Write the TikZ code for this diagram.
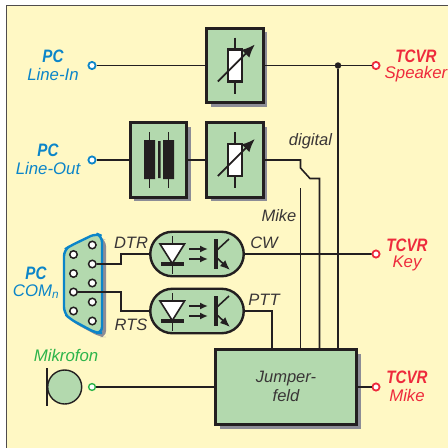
\documentclass[tikz,border=0pt]{standalone}
\usepackage{fontspec}
\setmainfont{Liberation Sans}
\newfontfamily\headfont[FakeStretch=0.84]{Liberation Sans}
\usetikzlibrary{positioning,arrows.meta,shadows,shapes.misc}

\definecolor{bgyellow}{HTML}{FFF8C4}
\definecolor{boxgreen}{HTML}{B3D9AE}
\definecolor{shadowgray}{HTML}{8C8C96}
\definecolor{pcblue}{HTML}{0B85C9}
\definecolor{tcvrred}{HTML}{EE2A3C}
\definecolor{micgreen}{HTML}{2DB44A}
\definecolor{inkdark}{HTML}{231F20}

\tikzset{
  boxshadow/.style={drop shadow={shadow xshift=4pt,shadow yshift=-4pt,fill=shadowgray,opacity=1}},
  blockbox/.style={draw=inkdark, line width=3pt, fill=boxgreen, boxshadow, inner sep=0pt,
    minimum width=56.5pt, minimum height=74.5pt, align=center},
  optobox/.style={rounded rectangle, draw=inkdark, line width=2.4pt, fill=boxgreen,
    minimum width=93.5pt, minimum height=44.5pt, inner sep=0pt},
  wire/.style={draw=inkdark, line width=1.6pt},
  termin/.style={circle, draw=#1, line width=1.8pt, fill=white, inner sep=0pt, minimum size=7.2pt},
  pinhole/.style={circle, draw=inkdark, line width=1.5pt, fill=white, inner sep=0pt, minimum size=7.5pt},
  dotbig/.style={circle, fill=inkdark, inner sep=0pt, minimum size=6.5pt},
  dotsmall/.style={circle, fill=inkdark, inner sep=0pt, minimum size=3.4pt},
  headlbl/.style={text=#1, font=\fontsize{18}{18}\headfont\bfseries\itshape, inner sep=0pt},
  sublbl/.style={text=#1, font=\fontsize{16.8}{17}\selectfont\itshape, inner sep=0pt},
  notelbl/.style={text=inkdark!90, font=\fontsize{16.5}{18.5}\selectfont\itshape, inner sep=0pt, align=center},
  potsym/.pic={
    \draw[inkdark, line width=1.6pt] (0,-28) -- (0,28);
    \draw[inkdark, line width=2.2pt, fill=white] (-7,-16) rectangle (7,16);
    \draw[inkdark, line width=1.8pt, -{Latex[length=13pt,width=11pt]}] (-17,16) -- (20,-21);
  },
  transfsym/.pic={
    \draw[inkdark, line width=1.6pt] (-9,-28) -- (-9,28) (10,-28) -- (10,28);
    \fill[inkdark] (-14.5,-20) rectangle (-3.5,19) (-0.5,-19) rectangle (2.2,18) (4.5,-20) rectangle (15.5,19);
  },
  optosym/.pic={
    \draw[inkdark, line width=1.6pt] (-24.7,-18) -- (-24.7,20);
    \draw[inkdark, line width=1.6pt, fill=white] (-37,-10) -- (-12.5,-10) -- (-24.7,9.5) -- cycle;
    \draw[inkdark, line width=3.2pt] (-36,10) -- (-13.5,10);
    \draw[inkdark, line width=1.6pt, -{Latex[length=8pt,width=7pt]}] (-8,-5) -- (11,-5);
    \draw[inkdark, line width=1.6pt, -{Latex[length=8pt,width=7pt]}] (-8,5) -- (11,5);
    \draw[inkdark, line width=3.2pt] (19,-15) -- (19,15);
    \draw[inkdark, line width=1.6pt] (19,-3) -- (32,-15);
    \draw[inkdark, line width=1.6pt, -{Latex[length=10pt,width=8pt]}] (19,3) -- (33,16);
  },
}

\begin{document}
\begin{tikzpicture}[x=1pt, y=-1pt, node distance=18.5pt]
  \useasboundingbox (0,0) rectangle (448,448);
  \fill[bgyellow] (6,5) rectangle (449,449);
  \draw[inkdark!80, line width=1pt] (6,449) -- (6,5) -- (449,5);

  % blocks
  \node[blockbox] (pottop) at (234.8,65.5) {};
  \node[blockbox] (potlow) at (234.8,160) {};
  \node[blockbox] (transf) at (158.5,160) {};
  \node[blockbox, minimum width=141pt, minimum height=75pt] (jumper) at (286.3,387) {};
  \node[notelbl] (jumpertxt) at (286,386.5) {Jumper-\\feld};
  \pic at (pottop) {potsym};
  \pic at (potlow) {potsym};
  \pic at (transf) {transfsym};

  % optocouplers
  \node[optobox] (optocw) at (197,254) {};
  \node[optobox] (optoptt) at (197,311) {};
  \pic at (optocw) {optosym};
  \pic at (optoptt) {optosym};

  % terminals
  \node[termin=pcblue] (linein) at (92,65.5) {};
  \node[termin=pcblue] (lineout) at (92,160) {};
  \node[termin=tcvrred] (speaker) at (376,65.5) {};
  \node[termin=tcvrred] (key) at (376,254) {};
  \node[termin=tcvrred] (mikeout) at (376,387) {};
  \node[termin=micgreen, line width=1.4pt, minimum size=6.8pt] (micin) at (92,387) {};

  % sub-D connector
  \draw[pcblue, line width=2.4pt, fill=boxgreen, boxshadow, rounded corners=6pt]
    (64,250) -- (70,246) -- (96,233.5) -- (102,236) -- (102,333) -- (96,333) -- (70,319) -- (64,313) -- cycle;
  \foreach \n/\y in {1/245,2/264,3/283,4/302,5/321}
    \node[pinhole] (pinr\n) at (92.3,\y) {};
  \foreach \n/\y in {1/254.5,2/273.5,3/292,4/311}
    \node[pinhole] (pinl\n) at (73.5,\y) {};

  % microphone
  \node[circle, draw=inkdark, line width=1.4pt, fill=boxgreen, minimum size=34pt, inner sep=0pt] (mic) at (64.7,387) {};
  \coordinate (mictop) at (46.7,368);
  \coordinate (micbot) at (46.7,405.5);
  \draw[wire] (mictop) -- (micbot);

  % wires
  \draw[wire] (linein) -- (pottop);
  \draw[wire] (pottop) -- (speaker);
  \draw[wire] (lineout) -- (transf);
  \draw[wire] (transf) -- (potlow);
  \draw[wire] (optocw) -- (key);
  \draw[wire] (micin) -- (jumper);
  \draw[wire] (jumper) -- (mikeout);

  \node[dotbig] (junctop) at (338,65.5) {};
  \draw[wire] (junctop) -- (junctop |- jumper.north);

  \coordinate (swa) at (300.5,160);
  \coordinate (swb) at (300.5,168);
  \coordinate (swc) at (310,178.5);
  \coordinate (swd) at (319.5,178.5);
  \draw[wire] (potlow) -- (swa) -- (swb) -- (swc) -- (swd) -- (swd |- jumper.north);
  \coordinate (mikesw) at (300.5,188);
  \draw[wire] (mikesw) -- (mikesw |- jumper.north);

  \node[dotsmall] (crossa) at (300.5,254) {};
  \node[dotsmall] (crossb) at (319.5,254) {};
  \node[dotsmall] (crossc) at (338,254) {};

  \coordinate (dtrbend) at (121,264);
  \draw[wire] (pinr2) -- (dtrbend) -- (dtrbend |- optocw) -- (optocw);
  \coordinate (rtsbend) at (121,292);
  \draw[wire] (pinl3) -- (rtsbend) -- (rtsbend |- optoptt) -- (optoptt);
  \coordinate (pttbend) at (272,311);
  \draw[wire] (optoptt) -- (pttbend) -- (pttbend |- jumper.north);

  % labels
  \node[headlbl=pcblue] (pcin) at (53,56) {PC};
  \node[sublbl=pcblue, below=of pcin.center, anchor=center] (pcinsub) {Line-In};
  \node[headlbl=pcblue] (pcout) at (48,150) {PC};
  \node[sublbl=pcblue, below=of pcout.center, anchor=center] (pcoutsub) {Line-Out};
  \node[headlbl=pcblue] (pccom) at (36,273) {PC};
  \node[sublbl=pcblue, below=of pccom.center, anchor=center] (pccomsub) {COM\textsubscript{n}};
  \node[headlbl=tcvrred] (tcspk) at (416,56) {TCVR};
  \node[sublbl=tcvrred, below=of tcspk.center, anchor=center] (tcspksub) {Speaker};
  \node[headlbl=tcvrred] (tckey) at (407,245) {TCVR};
  \node[sublbl=tcvrred, below=of tckey.center, anchor=center] (tckeysub) {Key};
  \node[headlbl=tcvrred] (tcmike) at (407,377) {TCVR};
  \node[sublbl=tcvrred, below=of tcmike.center, anchor=center] (tcmikesub) {Mike};
  \node[sublbl=micgreen] (miklbl) at (66,355) {Mikrofon};
  \node[notelbl] (digitallbl) at (310.5,141) {digital};
  \node[notelbl] (mikelbl) at (279,216) {Mike};
  \node[notelbl] (dtrlbl) at (131,243) {DTR};
  \node[notelbl] (rtslbl) at (131,324.5) {RTS};
  \node[notelbl] (cwlbl) at (264,243) {CW};
  \node[notelbl] (pttlbl) at (264,300) {PTT};
\end{tikzpicture}
\end{document}
